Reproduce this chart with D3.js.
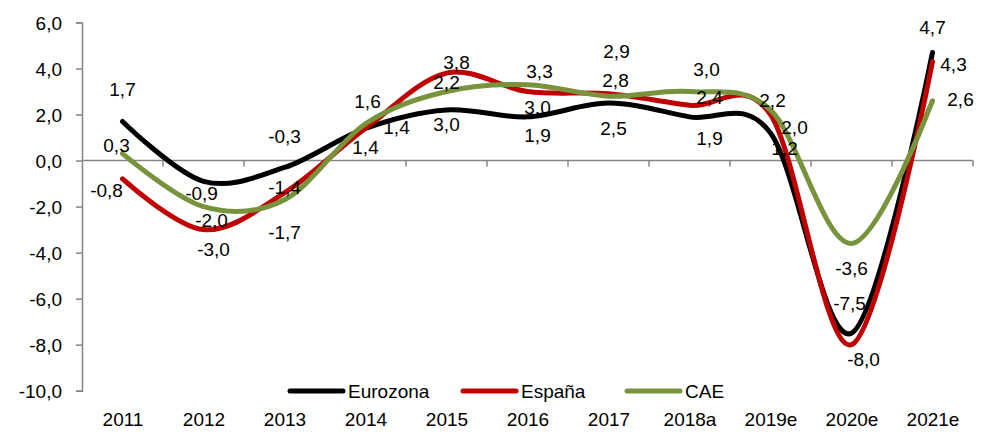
<!DOCTYPE html>
<html>
<head>
<meta charset="utf-8">
<script src="https://cdn.jsdelivr.net/npm/d3@7"></script>
<style>
  body { margin: 0; background: #fff; }
  svg text { font-family: "Liberation Sans", Arial, sans-serif; font-size: 19px; fill: #000; }
</style>
</head>
<body>
<div id="chart"></div>
<script>
// data
const years = ["2011", "2012", "2013", "2014", "2015", "2016", "2017", "2018a", "2019e", "2020e", "2021e"];
const eurozona = [1.7, -0.9, -0.3, 1.4, 2.2, 1.9, 2.5, 1.9, 1.2, -7.5, 4.7];
const espana = [-0.8, -3.0, -1.4, 1.4, 3.8, 3.0, 2.9, 2.4, 2.0, -8.0, 4.3];
const cae = [0.3, -2.0, -1.7, 1.6, 3.0, 3.3, 2.8, 3.0, 2.2, -3.6, 2.6];
const seriesNames = ["Eurozona", "España", "CAE"];
const yTicks = [6, 4, 2, 0, -2, -4, -6, -8, -10];

// where each data label sits relative to its point [dx, dy]
const eurozonaLabelPos = [[0, -32], [-2, 12], [0, -31], [31, -1], [0, -28], [10, 18], [5, 25], [20, 21], [14, 15], [-2, -30], [0, -25]];
const espanaLabelPos = [[-16, 11], [10, 20], [0, -5], [0, 19], [10, -11], [10, 16], [8, -42], [20, -8], [24, 13], [12, 15], [21, 3]];
const caeLabelPos = [[-6, -8], [8, 14], [0, 33], [2, -22], [0, 33], [12, -13], [7, -16], [17, -22], [2, -10], [0, 25], [28, -1]];

const width = 984, height = 432;
const colors = ["#000000", "#c00000", "#77933c"];
const fmt = v => d3.format(".1f")(v).replace("−", "-").replace(".", ",");

const svg = d3.select("#chart").append("svg")
    .attr("width", width)
    .attr("height", height);

const x = d3.scalePoint()
    .domain(years)
    .range([82, 973])
    .padding(0.5);

const y = d3.scaleLinear()
    .domain([-10, 6])
    .range([390.7, 22.5]);

// y axis
const yAxis = svg.append("g")
    .attr("transform", "translate(82,0)")
    .call(d3.axisLeft(y).tickValues(yTicks).tickSize(6).tickPadding(14).tickFormat(fmt));
yAxis.selectAll("path, line").attr("stroke", "#868686").attr("stroke-width", 1.5);
yAxis.selectAll("text").attr("dy", "0.35em");

// x axis at zero, ticks between categories
const step = x.step();
const boundaries = d3.range(years.length + 1).map(i => 82 + i * step);
const xAxis = svg.append("g").attr("transform", `translate(0,${y(0)})`);
xAxis.append("line")
    .attr("x1", 82).attr("x2", 973)
    .attr("stroke", "#868686").attr("stroke-width", 1.5);
xAxis.selectAll("line.tick")
    .data(boundaries.slice(1))
    .join("line")
    .attr("class", "tick")
    .attr("x1", d => d).attr("x2", d => d)
    .attr("y1", 0).attr("y2", 6)
    .attr("stroke", "#868686").attr("stroke-width", 1.5);

// category labels along the bottom
const xLabels = svg.append("g")
    .attr("transform", "translate(0,408)")
    .call(d3.axisBottom(x).tickSize(0).tickPadding(0));
xLabels.select(".domain").remove();
xLabels.selectAll("text").attr("dy", "0.95em");

// lines
const allSeries = [eurozona, espana, cae];
const allLabelPos = [eurozonaLabelPos, espanaLabelPos, caeLabelPos];

const line = d3.line()
    .x((d, i) => x(years[i]))
    .y(d => y(d))
    .curve(d3.curveCardinal.tension(0));

svg.append("g")
    .selectAll("path")
    .data(allSeries)
    .join("path")
    .attr("d", d => line(d))
    .attr("fill", "none")
    .attr("stroke", (d, i) => colors[i])
    .attr("stroke-width", 5)
    .attr("stroke-linecap", "round")
    .attr("stroke-linejoin", "round");

// data labels
allSeries.forEach((values, s) => {
    svg.append("g")
        .selectAll("text")
        .data(values)
        .join("text")
        .attr("x", (d, i) => x(years[i]) + allLabelPos[s][i][0])
        .attr("y", (d, i) => y(d) + allLabelPos[s][i][1])
        .attr("dy", "0.35em")
        .attr("text-anchor", "middle")
        .text(d => fmt(d));
});

// legend
const legendX = [290, 463, 627];
const legend = svg.append("g").attr("transform", "translate(0,391)");
seriesNames.forEach((name, i) => {
    legend.append("line")
        .attr("x1", legendX[i]).attr("x2", legendX[i] + 53)
        .attr("y1", 0).attr("y2", 0)
        .attr("stroke", colors[i])
        .attr("stroke-width", 5)
        .attr("stroke-linecap", "round");
    legend.append("text")
        .attr("x", legendX[i] + 58)
        .attr("y", 0)
        .attr("dy", "0.35em")
        .text(name);
});
</script>
</body>
</html>
